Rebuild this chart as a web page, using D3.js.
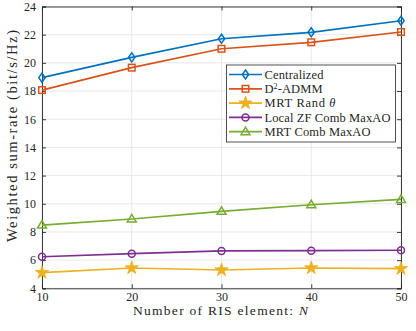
<!DOCTYPE html>
<html><head><meta charset="utf-8">
<script src="https://cdn.jsdelivr.net/npm/d3@7"></script>
<style>body{margin:0;background:#fff}svg{display:block}svg text{font-family:"Liberation Serif","Times New Roman",serif !important;fill:#262626}</style>
</head><body><svg id="c" width="416" height="331"></svg>
<script>
const xValues = [10, 20, 30, 40, 50];
const centralized = [18.95, 20.39, 21.71, 22.17, 22.99];
const d2admm = [18.07, 19.66, 21.0, 21.46, 22.19];
const mrtRand = [5.11, 5.44, 5.30, 5.44, 5.39];
const localZF = [6.24, 6.46, 6.65, 6.67, 6.70];
const mrtComb = [8.49, 8.92, 9.46, 9.93, 10.31];
const seriesNames = ["Centralized", "D²-ADMM", "MRT Rand θ", "Local ZF Comb MaxAO", "MRT Comb MaxAO"];
const xTicks = [10, 20, 30, 40, 50];
const yTicks = [4, 6, 8, 10, 12, 14, 16, 18, 20, 22, 24];

const series = [
  {name: seriesNames[0], values: centralized, color: "#0072BD", marker: "diamond", w: 59},
  {name: seriesNames[1], values: d2admm, color: "#D95319", marker: "square", w: 58},
  {name: seriesNames[2], values: mrtRand, color: "#EDB120", marker: "star", w: 71},
  {name: seriesNames[3], values: localZF, color: "#7E2F8E", marker: "circle", w: 126},
  {name: seriesNames[4], values: mrtComb, color: "#77AC30", marker: "triangle", w: 106}
];

const svg = d3.select("#c");
const L = 42, R = 401, T = 6.5, B = 288.3;
const x = d3.scaleLinear().domain([10, 50]).range([L, R]);
const y = d3.scaleLinear().domain([4, 24]).range([B, T]);
const axisColor = "#262626";

// grid
const g = svg.append("g");
g.selectAll(".gx").data(xTicks).join("line")
  .attr("x1", d => x(d)).attr("x2", d => x(d)).attr("y1", T).attr("y2", B)
  .attr("stroke", "#e3e3e3").attr("stroke-width", 0.8);
g.selectAll(".gy").data(yTicks).join("line")
  .attr("x1", L).attr("x2", R).attr("y1", d => y(d)).attr("y2", d => y(d))
  .attr("stroke", "#e3e3e3").attr("stroke-width", 0.8);

// axes
const ax = svg.append("g").attr("transform", `translate(0,${B})`)
  .call(d3.axisBottom(x).tickValues(xTicks).tickSize(-4).tickPadding(4));
const axT = svg.append("g").attr("transform", `translate(0,${T})`)
  .call(d3.axisTop(x).tickValues(xTicks).tickSize(-4).tickFormat(""));
const ay = svg.append("g").attr("transform", `translate(${L},0)`)
  .call(d3.axisLeft(y).tickValues(yTicks).tickSize(-4).tickPadding(6));
const ayR = svg.append("g").attr("transform", `translate(${R},0)`)
  .call(d3.axisRight(y).tickValues(yTicks).tickSize(-4).tickFormat(""));
[ax, axT, ay, ayR].forEach(a => {
  a.attr("font-family", null).attr("font-size", null);
  a.select(".domain").attr("stroke", axisColor).attr("stroke-width", 0.9);
  a.selectAll(".tick line").attr("stroke", axisColor).attr("stroke-width", 0.9);
  a.selectAll("text").style("font-size", "12px").attr("fill", axisColor);
});

// lines
const line = d3.line().x((d, i) => x(xValues[i])).y(d => y(d));
function drawMarker(sel, type, color, cx, cy) {
  if (type === "diamond") {
    sel.append("path").attr("d", `M${cx},${cy-4.5}L${cx+3.2},${cy}L${cx},${cy+4.5}L${cx-3.2},${cy}Z`)
      .attr("fill", "none").attr("stroke", color).attr("stroke-width", 1.5);
  } else if (type === "square") {
    sel.append("rect").attr("x", cx-3.3).attr("y", cy-3.3).attr("width", 6.6).attr("height", 6.6)
      .attr("fill", "none").attr("stroke", color).attr("stroke-width", 1.5);
  } else if (type === "circle") {
    sel.append("circle").attr("cx", cx).attr("cy", cy).attr("r", 3.5)
      .attr("fill", "none").attr("stroke", color).attr("stroke-width", 1.5);
  } else if (type === "triangle") {
    sel.append("path").attr("d", `M${cx},${cy-4.5}L${cx+4.5},${cy+3}L${cx-4.5},${cy+3}Z`)
      .attr("fill", "none").attr("stroke", color).attr("stroke-width", 1.5);
  } else if (type === "star") {
    sel.append("path").attr("d", d3.symbol(d3.symbolStar, 55)()).attr("transform", `translate(${cx},${cy})`)
      .attr("fill", color).attr("stroke", color).attr("stroke-width", 0.8);
  }
}
series.forEach(s => {
  svg.append("path").datum(s.values).attr("d", line)
    .attr("fill", "none").attr("stroke", s.color).attr("stroke-width", 1.7);
  const mg = svg.append("g");
  s.values.forEach((v, i) => drawMarker(mg, s.marker, s.color, x(xValues[i]), y(v)));
});

// legend
const lg = svg.append("g");
lg.append("rect").attr("x", 226.5).attr("y", 65).attr("width", 169).attr("height", 77)
  .attr("fill", "#fff").attr("stroke", axisColor).attr("stroke-width", 0.8);
series.forEach((s, i) => {
  const yy = 74.5 + i * 14.3;
  lg.append("line").attr("x1", 229).attr("x2", 262).attr("y1", yy).attr("y2", yy)
    .attr("stroke", s.color).attr("stroke-width", 1.7);
  drawMarker(lg, s.marker, s.color, 245.5, yy);
  const t = lg.append("text").attr("x", 264.5).attr("y", yy + 4.2).style("font-size", "12.5px")
    .attr("textLength", s.w).attr("lengthAdjust", "spacing");
  if (i === 1) {
    t.append("tspan").text("D");
    t.append("tspan").text("2").style("font-size", "8px").attr("dy", -4);
    t.append("tspan").text("-ADMM").attr("dy", 4);
  } else if (i === 2) {
    t.append("tspan").text("MRT Rand ");
    t.append("tspan").text("θ").attr("font-style", "italic");
  } else {
    t.text(s.name);
  }
});

// axis labels
const xl = svg.append("text").attr("x", 133).attr("y", 315).style("font-size", "13.5px")
  .attr("textLength", 175).attr("lengthAdjust", "spacing");
xl.append("tspan").text("Number of RIS element:  ");
xl.append("tspan").text("N").attr("font-style", "italic");
svg.append("text").attr("transform", "translate(17,242) rotate(-90)")
  .style("font-size", "14.5px").attr("textLength", 212).attr("lengthAdjust", "spacing")
  .text("Weighted sum-rate (bit/s/Hz)");
</script></body></html>
